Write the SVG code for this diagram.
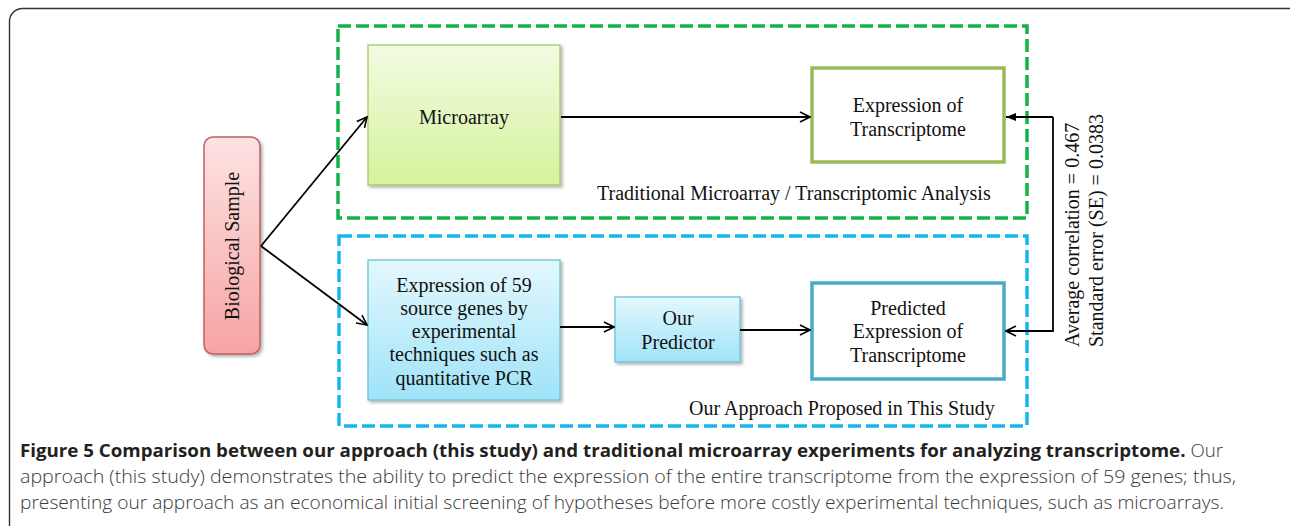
<svg xmlns="http://www.w3.org/2000/svg" width="1290" height="526" viewBox="0 0 1290 526">
  <defs>
    <linearGradient id="gPink" x1="0" y1="0" x2="0" y2="1">
      <stop offset="0" stop-color="#fde3e3"/>
      <stop offset="1" stop-color="#f8a3a3"/>
    </linearGradient>
    <linearGradient id="gGreen" x1="0" y1="0" x2="0" y2="1">
      <stop offset="0" stop-color="#f2fbe2"/>
      <stop offset="1" stop-color="#d5f39c"/>
    </linearGradient>
    <linearGradient id="gBlue" x1="0" y1="0" x2="0" y2="1">
      <stop offset="0" stop-color="#e4f8fe"/>
      <stop offset="1" stop-color="#9fe3f8"/>
    </linearGradient>
    <filter id="shadow" x="-10%" y="-10%" width="125%" height="125%">
      <feDropShadow dx="2" dy="2" stdDeviation="1.5" flood-color="#000" flood-opacity="0.3"/>
    </filter>
    <marker id="open" viewBox="0 0 12 12" refX="11" refY="6" markerWidth="12" markerHeight="12" markerUnits="userSpaceOnUse" orient="auto">
      <path d="M1,1 L11,6 L1,11" fill="none" stroke="#000" stroke-width="1.6"/>
    </marker>
    <marker id="solid" viewBox="0 0 10 10" refX="10" refY="5" markerWidth="10" markerHeight="10" markerUnits="userSpaceOnUse" orient="auto">
      <path d="M0,1 L10,5 L0,9 Z" fill="#000"/>
    </marker>
  </defs>
  <style>
    .lbl { font-family: "Liberation Serif", "Times New Roman", serif; font-size: 20px; fill: #111; }
    .mid { text-anchor: middle; }
    .cap { font-family: "Open Sans", "Liberation Sans", sans-serif; font-size: 17.5px; font-weight: 300; fill: #3a3a3a; }
    .capb { font-weight: bold; fill: #231f20; }
    .conn { fill: none; stroke: #000; stroke-width: 1.8; }
  </style>

  <rect width="1290" height="526" fill="#fff"/>
  <!-- figure frame -->
  <rect x="9.5" y="8.5" width="1292" height="532" rx="13" fill="none" stroke="#333" stroke-width="1.4"/>

  <!-- dashed groupings -->
  <g id="traditional-group">
    <rect x="338" y="26" width="689" height="192" fill="none" stroke="#14b14b" stroke-width="3.5" stroke-dasharray="13 5"/>
    <text class="lbl" x="597" y="200">Traditional Microarray / Transcriptomic Analysis</text>
  </g>
  <g id="approach-group">
    <rect x="339" y="236" width="688" height="190" fill="none" stroke="#18b4ee" stroke-width="3.5" stroke-dasharray="13 5"/>
    <text class="lbl" x="689" y="415">Our Approach Proposed in This Study</text>
  </g>

  <!-- nodes -->
  <g id="biological-sample">
    <rect x="204" y="137" width="56" height="217" rx="9" fill="url(#gPink)" stroke="#c0605e" stroke-width="1.5" filter="url(#shadow)"/>
    <text class="lbl mid" transform="translate(239,246) rotate(-90)">Biological Sample</text>
  </g>
  <g id="microarray">
    <rect x="368" y="45" width="192" height="140" fill="url(#gGreen)" stroke="#a6c866" stroke-width="1.3" filter="url(#shadow)"/>
    <text class="lbl mid" x="464" y="124">Microarray</text>
  </g>
  <g id="expression-transcriptome">
    <rect x="812" y="68" width="192" height="94" fill="#fff" stroke="#9bbb59" stroke-width="3.5"/>
    <text class="lbl mid" x="908" y="112">Expression of</text>
    <text class="lbl mid" x="908" y="136">Transcriptome</text>
  </g>
  <g id="source-genes">
    <rect x="368" y="260" width="192" height="140" fill="url(#gBlue)" stroke="#6cc0d6" stroke-width="1.3" filter="url(#shadow)"/>
    <text class="lbl mid" x="464" y="292">Expression of 59</text>
    <text class="lbl mid" x="464" y="315">source genes by</text>
    <text class="lbl mid" x="464" y="338">experimental</text>
    <text class="lbl mid" x="464" y="361">techniques such as</text>
    <text class="lbl mid" x="464" y="385">quantitative PCR</text>
  </g>
  <g id="our-predictor">
    <rect x="615" y="297" width="125" height="65" fill="url(#gBlue)" stroke="#6cc0d6" stroke-width="1.3" filter="url(#shadow)"/>
    <text class="lbl mid" x="678" y="325">Our</text>
    <text class="lbl mid" x="678" y="349">Predictor</text>
  </g>
  <g id="predicted-expression">
    <rect x="812" y="283" width="192" height="96" fill="#fff" stroke="#4bacc6" stroke-width="3.5"/>
    <text class="lbl mid" x="908" y="315">Predicted</text>
    <text class="lbl mid" x="908" y="338">Expression of</text>
    <text class="lbl mid" x="908" y="362">Transcriptome</text>
  </g>

  <!-- connectors -->
  <g id="connectors">
    <path class="conn" d="M261,246 L367,117" marker-end="url(#open)"/>
    <path class="conn" d="M261,246 L367,325" marker-end="url(#open)"/>
    <path class="conn" d="M561,117 L810,117" marker-end="url(#open)"/>
    <path class="conn" d="M560,327 L614,327" marker-end="url(#open)"/>
    <path class="conn" d="M740,330 L810,330" marker-end="url(#open)"/>
    <path class="conn" d="M1053,117 L1006,117" marker-end="url(#solid)"/>
    <path class="conn" d="M1053,117 L1053,331 L1006,331" marker-end="url(#open)"/>
  </g>
  <g id="correlation-label">
    <text class="lbl" transform="translate(1079,347) rotate(-90)">Average correlation = 0.467</text>
    <text class="lbl" transform="translate(1103,347) rotate(-90)">Standard error (SE) = 0.0383</text>
  </g>

  <!-- caption -->
  <g id="caption">
    <text class="cap" x="20" y="457" textLength="1203" lengthAdjust="spacingAndGlyphs"><tspan class="capb">Figure 5 Comparison between our approach (this study) and traditional microarray experiments for analyzing transcriptome.</tspan> Our</text>
    <text class="cap" x="20" y="483" textLength="1216" lengthAdjust="spacingAndGlyphs">approach (this study) demonstrates the ability to predict the expression of the entire transcriptome from the expression of 59 genes; thus,</text>
    <text class="cap" x="20" y="509" textLength="1204" lengthAdjust="spacingAndGlyphs">presenting our approach as an economical initial screening of hypotheses before more costly experimental techniques, such as microarrays.</text>
  </g>
</svg>
